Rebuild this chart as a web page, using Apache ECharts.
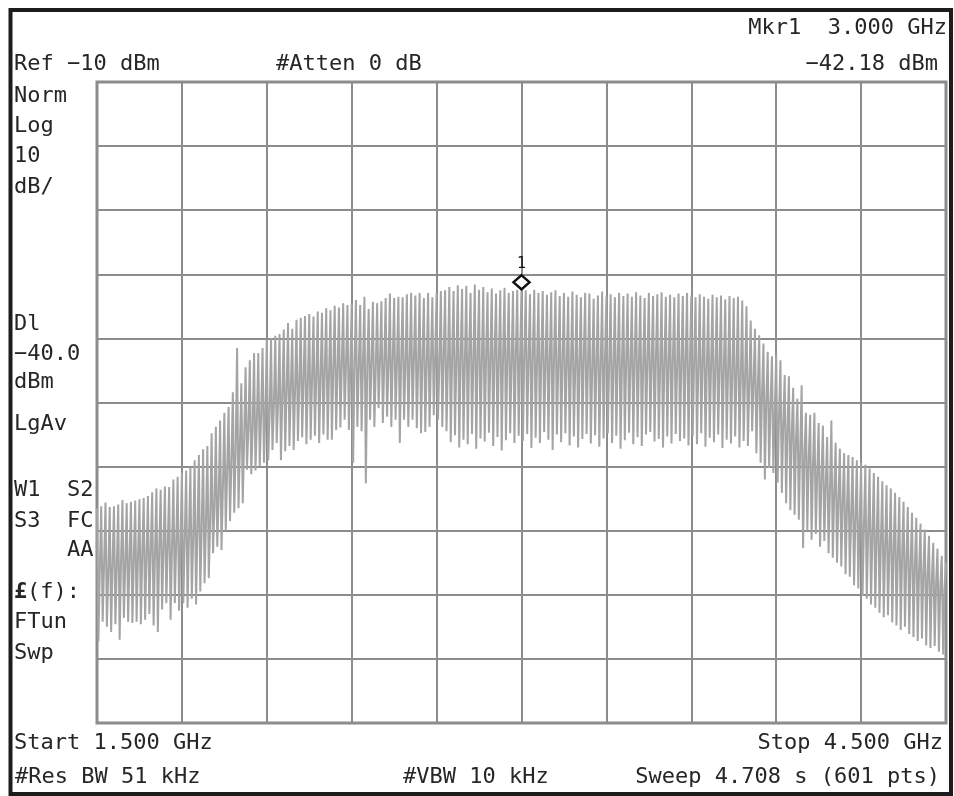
<!DOCTYPE html>
<html>
<head>
<meta charset="utf-8">
<script src="https://cdn.jsdelivr.net/npm/echarts@6/dist/echarts.min.js"></script>
<style>
html,body{margin:0;padding:0;background:#fff;}
#chart{width:954px;height:796px;}
</style>
</head>
<body>
<div id="chart"></div>
<script>
// Sweep settings
const startMHz = 1500;
const stopMHz = 4500;
const sweepPoints = 601;
const refLevel = -10;
const dbPerDiv = 10;
const divisions = 10;
const markerMHz = 3000;
const markerLevel = -42.18;

// Trace: each comb tooth = peak, dip, mid (3 display points)
const peakLevels = [
  -76.5,-76.2,-75.6,-76.3,-76.2,-75.9,-75.2,-75.7,-75.5,-75.3,
  -75.1,-74.9,-74.6,-74.0,-73.4,-73.6,-73.1,-73.2,-72.0,-71.6,
  -70.9,-70.6,-70.2,-69.0,-68.2,-67.3,-66.8,
  -64.8,-63.8,-62.8,-61.6,-60.7,-58.4,-51.5,-57.0,-54.5,-53.4,-52.3,-52.3,-51.5,-50.2,-50.0,-49.6,-49.3,-48.6,-47.6,-48.5,-47.1,-46.8,-46.5,
  -46.2,-46.6,-45.8,-46.0,-45.3,-45.6,-44.9,-45.2,-44.5,-44.8,
  -44.6,-44.0,-44.8,-43.5,-45.4,-44.3,-44.5,-44.2,-43.7,-43.0,-43.7,-43.5,-43.6,-43.1,-42.9,-43.3,-42.9,-43.7,-42.9,-43.6,-42.9,-42.6,-42.5,
  -42.0,-42.6,-41.7,-42.3,-41.8,-42.9,-41.6,-42.4,-42.0,-42.8,-42.2,-43.0,-42.5,-42.1,-42.9,-42.6,-42.4,
  -42.18,
  -42.5,-43.1,-42.4,-42.9,-42.6,-43.2,-42.8,-42.5,-43.4,-42.9,-43.5,-42.7,-43.2,-43.6,-42.9,-43.0,-43.8,-43.3,-42.7,-43.5,
  -43.1,-43.6,-42.9,-43.4,-43.0,-43.5,-42.8,-43.3,-43.7,-42.9,-43.4,-43.1,-42.8,-43.5,-43.2,-43.6,-43.0,-43.4,-42.9,-43.3,
  -43.6,-43.1,-43.5,-43.8,-43.2,-43.6,-43.3,-43.9,-43.4,-43.7,-43.5,-44.1,-45.0,
  -47.2,-48.5,-49.5,-50.8,-52.1,-52.8,-52.5,-53.4,-55.7,-55.9,-57.7,-59.4,-57.3,-61.6,-61.9,-61.6,-63.2,-63.6,-65.4,-62.8,-66.3,-67.2,-67.9,-68.2,-68.5,-69.0,-69.4,-69.7,
  -70.3,-71.0,-71.6,-72.3,-72.9,-73.4,-74.1,-74.8,-75.5,-76.3,-77.2,-78.0,-78.9,-79.8,-80.8,-81.9,-82.8,-83.9,-85.0
];
const dipLevels = [
  -97.3,-94.2,-95.0,-95.8,-94.6,-97.0,-93.6,-94.2,-94.4,-94.2,
  -94.6,-93.9,-93.0,-94.8,-95.8,-92.3,-91.3,-93.9,-91.3,-92.5,
  -91.3,-92.0,-90.6,-91.5,-89.5,-88.2,-87.4,
  -83.5,-82.5,-83.0,-80.0,-78.5,-77.2,-76.5,-75.7,-70.5,-71.2,-70.6,-70.0,-69.4,-69.0,-67.4,-66.3,-69.0,-67.6,-66.8,-67.4,-66.0,-65.4,-66.5,
  -65.8,-65.2,-66.3,-65.0,-65.8,-65.8,-64.3,-63.9,-62.7,-64.3,
  -69.4,-63.8,-64.5,-72.6,-62.7,-63.8,-60.9,-63.2,-62.2,-63.8,-62.7,-66.3,-62.7,-63.8,-62.7,-64.0,-64.8,-64.6,-63.8,-62.0,-62.7,-63.8,-64.5,
  -66.2,-65.1,-67.0,-65.8,-66.5,-64.9,-67.2,-65.6,-66.1,-64.7,-66.8,-65.4,-67.5,-65.9,-64.8,-66.3,-65.2,
  -66.0,-64.9,-67.1,-65.5,-66.3,-64.6,-65.8,-67.4,-65.0,-66.2,-64.8,-66.7,-65.3,-67.0,-65.7,-64.9,-66.4,-65.1,-66.9,-65.6,
  -64.8,-66.3,-65.2,-67.2,-65.9,-64.7,-66.5,-65.4,-66.8,-65.0,-64.6,-66.1,-65.7,-67.0,-65.3,-66.4,-64.9,-66.0,-65.6,-66.7,
  -65.2,-66.5,-64.8,-66.9,-65.5,-66.2,-65.0,-67.1,-65.8,-66.4,-65.3,-67.0,-66.0,-66.8,
  -64.5,-67.9,-69.4,-72.0,-70.2,-71.0,-72.5,-74.1,-75.7,-76.8,-77.5,-78.3,-82.7,-80.0,-81.4,-80.5,-82.5,-81.6,-83.5,-84.2,-85.0,-85.6,-86.8,-87.2,-88.5,-89.0,-90.2,-90.6,
  -91.5,-92.0,-92.8,-93.5,-93.2,-94.3,-94.8,-95.5,-95.0,-96.1,-96.6,-97.2,-96.8,-97.9,-98.3,-98.0,-98.9,-99.3
];
const midLevels = [
  -85.7,-85.2,-86.1,-84.9,-85.4,-84.6,-85.0,-84.2,-84.7,-83.8,
  -83.5,-83.9,-83.0,-83.4,-82.6,-82.9,-82.3,-82.7,-81.8,-82.0,
  -81.3,-80.9,-81.0,-79.8,-79.4,-78.6,-78.3,-76.5,-74.8,-73.0,
  -70.5,-69.2,-67.5,-66.8,-65.4,-63.8,-64.2,-62.7,-62.0,-61.4,
  -61.6,-60.5,-59.8,-58.9,-58.2,-57.6,-57.9,-56.8,-56.5,-56.9,
  -56.0,-55.6,-55.9,-55.0,-55.4,-54.6,-54.9,-54.1,-53.8,-54.5,
  -53.9,-54.6,-53.5,-54.2,-53.7,-54.8,-53.4,-53.9,-54.3,-53.2,
  -53.8,-53.1,-54.0,-53.5,-52.9,-53.7,-53.2,-54.1,-53.4,-52.8,
  -53.6,-53.0,-53.9,-52.6,-53.3,-52.8,-53.5,-52.4,-53.1,-52.7,
  -53.4,-52.6,-53.0,-52.3,-53.2,-52.5,-52.9,-53.3,-52.4,-52.8,
  -52.2,-53.0,-52.6,-53.4,-52.8,-53.6,-53.1,-52.7,-53.8,-53.2,
  -53.9,-53.4,-54.2,-53.6,-53.0,-53.8,-54.4,-53.5,-54.0,-53.3,
  -53.7,-54.1,-53.2,-53.9,-53.5,-54.2,-53.0,-53.6,-54.3,-53.4,
  -53.8,-53.1,-54.0,-53.5,-53.9,-53.2,-54.1,-53.6,-53.3,-54.0,
  -53.5,-54.2,-53.7,-54.4,-53.9,-54.6,-54.1,-54.8,-55.0,-55.4,
  -55.2,-55.9,-56.3,-56.8,-57.0,-57.6,-58.5,-59.6,-60.4,-61.2,
  -62.0,-63.1,-63.9,-64.8,-65.9,-66.8,-67.9,-68.6,-69.8,-71.0,
  -71.8,-72.9,-73.5,-74.1,-75.0,-75.8,-76.5,-77.3,-77.9,-78.6,
  -79.4,-80.0,-80.6,-81.2,-81.7,-82.3,-82.8,-83.2,-83.6,-84.0,
  -84.5,-85.0,-85.6,-86.1,-86.5,-87.0,-87.6,-88.1,-88.6,-89.0
];

// Annotation texts
const leftLabels = [
  ['Norm', 96], ['Log', 126], ['10', 156], ['dB/', 187],
  ['Dl', 324], ['\u221240.0', 354], ['dBm', 382], ['LgAv', 424],
  ['W1  S2', 490], ['S3  FC', 521], ['    AA', 550],
  ['FTun', 622], ['Swp', 653]
];

// ---- build trace ----
const trace = [];
for (let k = 0; k < peakLevels.length; k++) {
  trace.push(peakLevels[k]);
  if (k < dipLevels.length) { trace.push(dipLevels[k]); trace.push(midLevels[k]); }
}
const step = (stopMHz - startMHz) / (sweepPoints - 1);
const seriesData = trace.map((v, i) => [startMHz + i * step, v]);

const MONO = '"DejaVu Sans Mono", "Liberation Mono", monospace';
const FONT = '22px ' + MONO;
const fmtG = mhz => (mhz / 1000).toFixed(3) + ' GHz';
const neg = s => s.replace('-', '\u2212');

function txt(text, x, y, align, font) {
  return {
    type: 'text', x: x, y: y, z: 100,
    style: { text: text, font: font || FONT, fill: '#262626', textAlign: align || 'left', textVerticalAlign: 'middle' }
  };
}

const graphics = [
  { type: 'rect', z: 101, shape: { x: 10.5, y: 10, width: 940.5, height: 784 },
    style: { fill: 'none', stroke: '#1c1c1c', lineWidth: 4 } },
  txt('Mkr1  ' + fmtG(markerMHz), 947, 28, 'right'),
  txt(neg('Ref ' + refLevel + ' dBm'), 14, 64),
  txt('#Atten 0 dB', 276, 64),
  txt(neg(markerLevel.toFixed(2) + ' dBm'), 938, 64, 'right'),
  txt('Start ' + fmtG(startMHz), 14, 743),
  txt('Stop ' + fmtG(stopMHz), 943, 743, 'right'),
  txt('#Res BW 51 kHz', 15, 777),
  txt('#VBW 10 kHz', 403, 777),
  txt('Sweep 4.708 s (' + sweepPoints + ' pts)', 940, 777, 'right'),
  txt('\u00a3', 14, 592, 'left', 'bold 22px ' + MONO),
  txt('(f):', 27, 592)
];
leftLabels.forEach(l => graphics.push(txt(l[0], 14, l[1])));

const chart = echarts.init(document.getElementById('chart'), null, { renderer: 'canvas' });
chart.setOption({
  animation: false,
  backgroundColor: '#ffffff',
  grid: { left: 97, top: 82, width: 849, height: 641, show: true, borderColor: '#8a8a8a', borderWidth: 3, backgroundColor: 'transparent' },
  xAxis: {
    type: 'value', min: startMHz, max: stopMHz, interval: (stopMHz - startMHz) / divisions,
    axisLabel: { show: false }, axisTick: { show: false }, axisLine: { show: false },
    splitLine: { show: true, lineStyle: { color: '#8c8c8c', width: 2 } }
  },
  yAxis: {
    type: 'value', min: refLevel - dbPerDiv * divisions, max: refLevel, interval: dbPerDiv,
    axisLabel: { show: false }, axisTick: { show: false }, axisLine: { show: false },
    splitLine: { show: true, lineStyle: { color: '#8c8c8c', width: 2 } }
  },
  series: [{
    type: 'line',
    data: seriesData,
    showSymbol: false,
    symbol: 'none',
    lineStyle: { color: '#a4a4a4', width: 2 },
    emphasis: { disabled: true },
    markPoint: {
      data: [{ coord: [markerMHz, markerLevel] }],
      symbol: 'diamond',
      symbolSize: [16, 14],
      symbolOffset: [0, -6],
      itemStyle: { color: '#ffffff', borderColor: '#111111', borderWidth: 2.5 },
      label: { show: true, position: 'top', distance: 2, formatter: '1', color: '#111', fontSize: 15, fontFamily: MONO }
    }
  }],
  graphic: graphics
});
</script>
</body>
</html>
